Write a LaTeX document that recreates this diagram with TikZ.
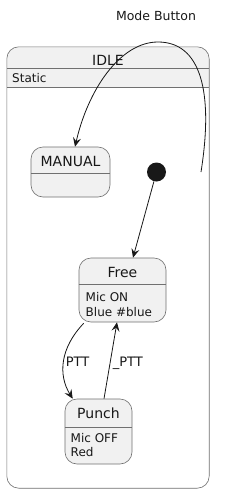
\documentclass[tikz,border=0pt]{standalone}
\usepackage{fontspec}
\setmainfont{DejaVu Sans}
\usetikzlibrary{arrows.meta,calc}
\definecolor{stfill}{HTML}{F1F1F1}
\definecolor{stline}{HTML}{181818}
\definecolor{boxline}{HTML}{707070}
\tikzset{
  x=1pt,y=-1pt,
  statebox/.style={draw=boxline,line width=0.6pt,fill=stfill,rounded corners=12pt,inner sep=0pt},
  namelbl/.style={inner sep=0pt,anchor=base,font=\fontsize{14}{16}\selectfont,text=stline},
  attrlbl/.style={inner sep=0pt,anchor=base west,font=\fontsize{12}{14}\selectfont,text=stline},
  edgelbl/.style={inner sep=0pt,anchor=base west,font=\fontsize{13}{15}\selectfont,text=stline},
  sepline/.style={draw=boxline,line width=0.6pt},
  trans/.style={draw=stline,line width=0.8pt,-{Stealth[length=9pt,width=8pt,inset=3.5pt]}},
}
\begin{document}
\begin{tikzpicture}
\useasboundingbox (0,0) rectangle (235,501);
% title
\node[inner sep=0pt,font=\fontsize{12.5}{15}\selectfont,text=stline] (title) at (156,16) {Mode Button};
% composite IDLE
\node[draw=none,fill=white,rounded corners=12pt,minimum width=202pt,minimum height=441pt,inner sep=0pt] (idle) at (108,267.5) {};
\begin{scope}
\clip[rounded corners=12pt] (idle.north west) rectangle (idle.south east);
\fill[stfill] (idle.north west) rectangle ($(idle.north east)+(0,40)$);
\end{scope}
\draw[boxline,line width=0.6pt,rounded corners=12pt] (idle.north west) rectangle (idle.south east);
\draw[sepline] ($(idle.north west)+(0,21)$) -- ($(idle.north east)+(0,21)$);
\draw[sepline] ($(idle.north west)+(0,40)$) -- ($(idle.north east)+(0,40)$);
\node[namelbl] (idlename) at (108,65) {IDLE};
\node[attrlbl] (idleattr) at (12,82.7) {Static};
% MANUAL
\node[statebox,minimum width=79pt,minimum height=50pt] (manual) at (70.5,172) {};
\draw[sepline] ($(manual.west)+(0,1)$) -- ($(manual.east)+(0,1)$);
\node[namelbl] (manualname) at (70.5,166.7) {MANUAL};
% initial
\node[circle,fill=stline,minimum size=19pt,inner sep=0pt] (init) at (156.5,172) {};
% Free
\node[statebox,minimum width=87pt,minimum height=64pt] (free) at (122.5,290) {};
\draw[sepline] ($(free.west)+(0,-6)$) -- ($(free.east)+(0,-6)$);
\node[namelbl] (freename) at (122.5,277.3) {Free};
\node[attrlbl] (freea1) at (85.5,301.7) {Mic ON};
\node[attrlbl] (freea2) at (85.5,316) {Blue \#blue};
% Punch
\node[statebox,minimum width=67pt,minimum height=65pt] (punch) at (98.5,431.5) {};
\draw[sepline] ($(punch.west)+(0,-4.5)$) -- ($(punch.east)+(0,-4.5)$);
\node[namelbl] (punchname) at (98.5,418.3) {Punch};
\node[attrlbl] (puncha1) at (70.5,442.7) {Mic OFF};
\node[attrlbl] (puncha2) at (70.5,456.7) {Red};
% transitions
\coordinate (mbend) at (201,172);
\draw[trans] (mbend) .. controls (214,90) and (200,42) .. (158,42)
   .. controls (120,42) and (88,90) .. ($(manual.north)+(4.5,0)$);
\draw[trans] (init) -- ($(free.north)+(10.5,0)$);
\draw[trans] ($(free.south west)+(5,1)$) .. controls (60,348) and (58,375) .. ($(punch.north west)+(8,0)$);
\draw[trans] ($(punch.north)+(5.5,0)$) -- ($(free.south)+(-5.5,0)$);
\node[edgelbl] (lptt) at (65.7,366) {PTT};
\node[edgelbl] (lnptt) at (112.7,366) {\_PTT};
\end{tikzpicture}
\end{document}
